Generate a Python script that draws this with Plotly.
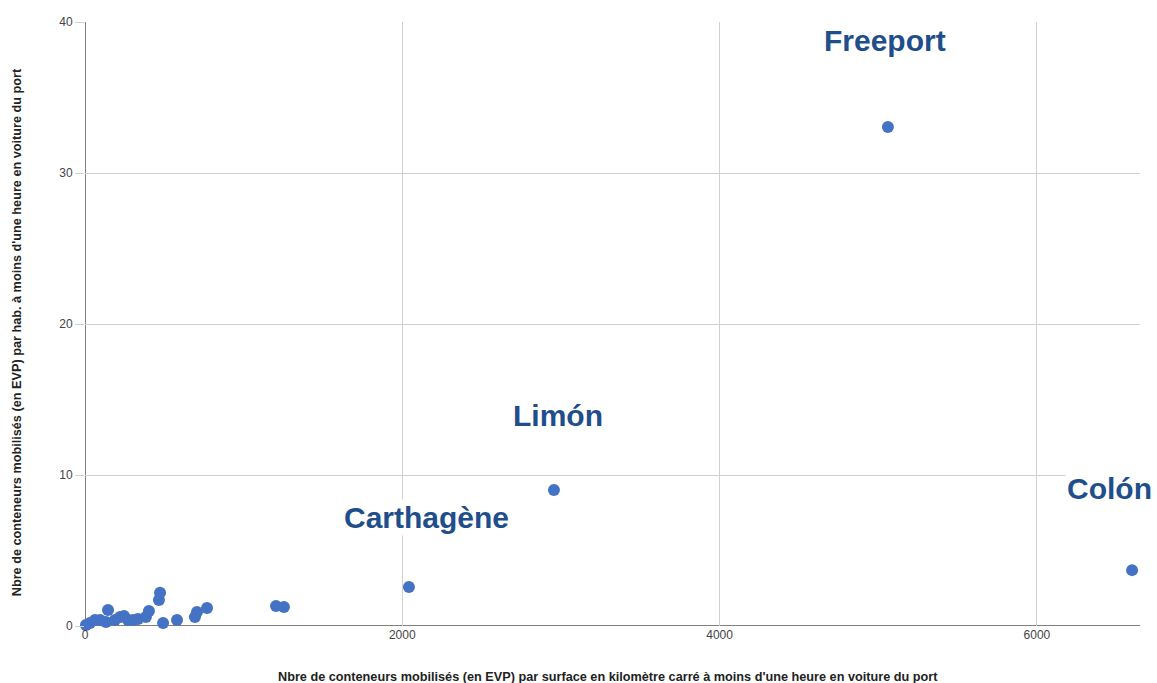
import plotly.graph_objects as go

# Data
x_vals = [6, 32, 63, 95, 132, 145, 189, 221, 246, 271, 303, 334, 384, 403, 466, 473, 492, 580, 693, 706, 769,
          1204, 1254, 2042, 2956, 5061, 6600]
y_vals = [0.07, 0.2, 0.4, 0.4, 0.26, 1.06, 0.4, 0.6, 0.66, 0.4, 0.4, 0.46, 0.6, 0.99, 1.72, 2.2, 0.2, 0.4, 0.6, 0.93, 1.19,
          1.32, 1.26, 2.58, 9.0, 33.05, 3.7]

label_names = ["Freeport", "Limón", "Carthagène", "Colón"]
label_x = [5042, 2981, 2150, 6460]
label_y = [38.8, 13.97, 7.17, 9.1]

x_ticks = [0, 2000, 4000, 6000]
y_ticks = [0, 10, 20, 30, 40]

x_title = "Nbre de conteneurs mobilisés (en EVP) par surface en kilomètre carré à moins d'une heure en voiture du port"
y_title = "Nbre de conteneurs mobilisés (en EVP) par hab. à moins d'une heure en voiture du port"

fig = go.Figure()
fig.add_trace(go.Scatter(
    x=x_vals, y=y_vals, mode="markers",
    marker=dict(size=12, color="#4472C4"),
    showlegend=False, cliponaxis=False,
))

for name, lx, ly in zip(label_names, label_x, label_y):
    fig.add_annotation(
        x=lx, y=ly, text="<b>" + name + "</b>", showarrow=False,
        font=dict(family="Liberation Sans, Arial", size=30, color="#1F4E8C"),
        bgcolor="white", xanchor="center", yanchor="middle",
    )

# axis titles as annotations for precise placement
fig.add_annotation(
    xref="paper", yref="paper", x=0.4962, y=0, yshift=-51, xanchor="center", yanchor="middle",
    text="<b>" + x_title + "</b>", showarrow=False,
    font=dict(family="Liberation Sans, Arial", size=12.7, color="#222"),
)
fig.add_annotation(
    xref="paper", yref="paper", x=0, xshift=-68, y=0.4863, xanchor="center", yanchor="middle",
    text="<b>" + y_title + "</b>", showarrow=False, textangle=-90,
    font=dict(family="Liberation Sans, Arial", size=12.7, color="#222"),
)

fig.update_layout(
    width=1157, height=683,
    margin=dict(l=85, r=17, t=22, b=57),
    plot_bgcolor="white", paper_bgcolor="white",
    font=dict(family="Liberation Sans, Arial", size=12, color="#444"),
    xaxis=dict(
        range=[0, 6650], tickvals=x_ticks, showgrid=True, gridcolor="#d0d0d0",
        zeroline=False, showline=False, ticks="",
        tickfont=dict(size=12, color="#444"), automargin=False,
    ),
    yaxis=dict(
        range=[0, 40], tickvals=y_ticks, showgrid=True, gridcolor="#d0d0d0",
        zeroline=False, showline=False, ticks="outside", ticklen=9, tickcolor="#d0d0d0",
        tickfont=dict(size=12, color="#444"), automargin=False,
    ),
)
# axis lines
fig.add_shape(type="line", xref="x", yref="paper", x0=0, x1=0, y0=0, y1=1, line=dict(color="#555", width=1.5), layer="below")
fig.add_shape(type="line", xref="paper", yref="y", x0=0, x1=1, y0=0, y1=0, line=dict(color="#555", width=1.5), layer="below")

fig.write_html("out.html", config={"displayModeBar": False},
               post_script="document.body.style.margin='0';")
